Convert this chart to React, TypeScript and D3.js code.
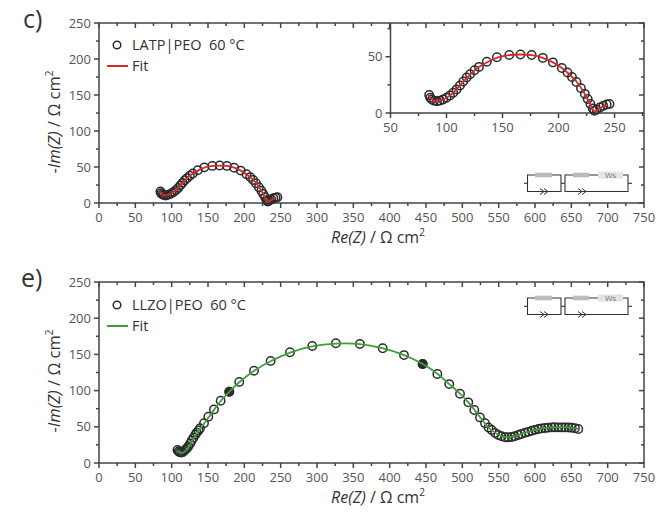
import * as d3 from "d3"

// Nyquist data (Re, -Im) in Ω cm²
const LATP_DATA: [number, number][] = [
  [84.5, 16], [85.5, 13.5], [87, 12], [89, 11], [91.5, 10.5], [94, 11], [97, 12],
  [100, 13.5], [103, 15.5], [106, 18], [109, 21], [112, 24.5], [115, 28], [118, 31.5],
  [121, 34.5], [125, 38], [129, 41], [136, 45.5], [145, 49.5], [156, 51.5], [166, 52],
  [176, 51.5], [186, 49], [195, 45], [203, 40], [208, 36], [212, 32], [216, 27.5],
  [220, 22], [223.5, 17], [226, 12.5], [228.5, 8], [230.5, 4], [232, 2], [234, 3],
  [237, 5], [240, 6.5], [243, 7.5], [245.5, 8],
]
const LATP_FIT: [number, number][] = [
  [84, 16], [86, 13], [89, 11], [92, 10.5], [96, 11.5], [100, 13.5], [106, 18],
  [112, 24.5], [118, 31], [124, 37], [130, 41.5], [138, 46], [146, 49.5], [156, 51.5],
  [166, 52], [176, 51.5], [186, 49], [195, 45], [203, 40], [210, 34], [216, 28],
  [221, 21], [225, 14], [228.5, 7.5], [231, 2.5], [233, 1.5], [236, 3.5], [240, 6],
  [244, 7.5],
]
const LLZO_DATA: [number, number][] = [
  [108, 18], [109.5, 16], [111, 15], [113, 14.5], [115, 15], [117, 16.5], [119, 18.5],
  [121, 20.5], [123, 23], [125.5, 27], [127.6, 31], [130, 35], [132.5, 39], [134.5, 42],
  [137, 45], [139, 48], [144.5, 55], [150.4, 64], [158.2, 74], [167.4, 86], [179.3, 98.5],
  [193, 112], [213.3, 127.5], [236.2, 141], [262.8, 153], [293.5, 161.6], [326, 165.3],
  [359, 164.4], [390.4, 158.4], [419.7, 149], [445.4, 136.7], [465.6, 123], [482, 109],
  [496.8, 95.7], [508.2, 83.8], [516.5, 73.2], [524.3, 63], [531.2, 54.8], [536, 49],
  [540.4, 45.6], [545, 41.5], [549.5, 38.7], [554, 37], [558.7, 35.5], [563, 35.5],
  [567.9, 36], [572, 37], [577, 38.7], [581, 40], [586.2, 41.8], [591, 43], [595.4, 44.6],
  [600, 45.8], [604.6, 46.9], [609, 47.8], [613.8, 48.3], [618, 48.8], [623, 49.2],
  [627, 49.3], [632, 49.2], [637, 49.2], [641.3, 49.2], [646, 49], [650.5, 48.7],
  [655, 48], [659.6, 46.9],
]
// points that show up filled (overlapping duplicates)
const LLZO_FILLED: [number, number][] = [[179.3, 98.5], [445.4, 136.7]]
const LLZO_FIT: [number, number][] = [
  [108, 17], [111, 14.5], [115, 14], [120, 17.5], [125, 25], [130, 33.5], [135, 41.5],
  [140, 48.5], [145, 55], [150, 62], [158, 73], [167, 85], [179, 98], [193, 111.5],
  [213, 127], [236, 140.5], [263, 152.5], [293, 161], [326, 165], [359, 164.3],
  [390, 158.5], [420, 149], [445, 137], [466, 123], [482, 109], [497, 95.5], [508, 84],
  [517, 73], [525, 62.5], [533, 52.5], [542, 44], [551, 38.5], [560, 36], [570, 36.5],
  [580, 39.5], [595, 44.5], [610, 48], [625, 49.5], [640, 49.5], [652, 48.5], [660, 47],
]

const X_TICKS = [0, 50, 100, 150, 200, 250, 300, 350, 400, 450, 500, 550, 600, 650, 700, 750]
const Y_TICKS = [0, 50, 100, 150, 200, 250]
const INSET_X_TICKS = [50, 100, 150, 200, 250]
const INSET_Y_TICKS = [0, 50]

const FONT = "'Open Sans', 'Noto Sans', sans-serif"
const AXIS = "#444"
const LABEL = "#555"
const MARK = "#2b2b2b"
const RED = "#d42a2a"
const GREEN = "#3f9e3a"

type Scale = d3.ScaleLinear<number, number>

function Frame({ x, y, majorX, majorY }: { x: Scale; y: Scale; majorX: number[]; majorY: number[] }) {
  const [x0, x1] = x.range()
  const [y0, y1] = y.range()
  const minorX = majorX.slice(0, -1).map((v, i) => (v + majorX[i + 1]) / 2)
  const minorY = majorY.slice(0, -1).map((v, i) => (v + majorY[i + 1]) / 2)
  return (
    <g stroke={AXIS} strokeWidth={1.5}>
      <rect x={x0} y={y1} width={x1 - x0} height={y0 - y1} fill="none" />
      {majorX.map((v) => (
        <g key={"mx" + v}>
          <line x1={x(v)} x2={x(v)} y1={y0} y2={y0 + 5} />
          <line x1={x(v)} x2={x(v)} y1={y1} y2={y1 + 5} />
        </g>
      ))}
      {minorX.map((v) => (
        <g key={"nx" + v}>
          <line x1={x(v)} x2={x(v)} y1={y0} y2={y0 + 3} />
          <line x1={x(v)} x2={x(v)} y1={y1} y2={y1 + 3} />
        </g>
      ))}
      {majorY.map((v) => (
        <g key={"my" + v}>
          <line x1={x0 - 5} x2={x0} y1={y(v)} y2={y(v)} />
          <line x1={x1 - 5} x2={x1} y1={y(v)} y2={y(v)} />
        </g>
      ))}
      {minorY.map((v) => (
        <g key={"ny" + v}>
          <line x1={x0 - 3} x2={x0} y1={y(v)} y2={y(v)} />
          <line x1={x1 - 3} x2={x1} y1={y(v)} y2={y(v)} />
        </g>
      ))}
    </g>
  )
}

function TickLabels({ x, y, xs, ys, size = 13 }: { x: Scale; y: Scale; xs: number[]; ys: number[]; size?: number }) {
  const [x0] = x.range()
  const [y0] = y.range()
  return (
    <g fontFamily={FONT} fontSize={size} fill={LABEL}>
      {xs.map((v) => (
        <text key={"x" + v} x={x(v)} y={y0 + 19} textAnchor="middle">{v}</text>
      ))}
      {ys.map((v) => (
        <text key={"y" + v} x={x0 - 8} y={y(v) + 4.5} textAnchor="end">{v}</text>
      ))}
    </g>
  )
}

function Series({ x, y, data, fit, color, filled = [] }: {
  x: Scale; y: Scale; data: [number, number][]; fit: [number, number][]; color: string; filled?: [number, number][]
}) {
  const line = d3.line<[number, number]>().x((d) => x(d[0])).y((d) => y(d[1])).curve(d3.curveCatmullRom)
  return (
    <g>
      {data.map((d, i) => (
        <circle key={i} cx={x(d[0])} cy={y(d[1])} r={4.2} fill="none" stroke={MARK} strokeWidth={1.5} />
      ))}
      {filled.map((d, i) => (
        <circle key={"f" + i} cx={x(d[0])} cy={y(d[1])} r={4.2} fill={MARK} stroke={MARK} strokeWidth={1.5} />
      ))}
      <path d={line(fit) ?? ""} fill="none" stroke={color} strokeWidth={1.8} />
    </g>
  )
}

function Legend({ x, y, label, color }: { x: number; y: number; label: string; color: string }) {
  return (
    <g fontFamily={FONT} fontSize={14.5} fill="#333">
      <circle cx={x + 10} cy={y} r={3.8} fill="none" stroke={MARK} strokeWidth={1.5} />
      <text x={x + 25} y={y + 5} style={{ whiteSpace: "pre" }}>{label}</text>
      <line x1={x} x2={x + 21} y1={y + 21} y2={y + 21} stroke={color} strokeWidth={2} />
      <text x={x + 25} y={y + 26}>Fit</text>
    </g>
  )
}

function Cpe({ cx, cy }: { cx: number; cy: number }) {
  return (
    <g stroke="#333" strokeWidth={1} fill="none">
      <path d={`M${cx - 4},${cy - 3} L${cx},${cy} L${cx - 4},${cy + 3}`} />
      <path d={`M${cx},${cy - 3} L${cx + 4},${cy} L${cx},${cy + 3}`} />
    </g>
  )
}

// equivalent circuit: (R||CPE)(R-Ws||CPE)
function Circuit({ x, y }: { x: number; y: number }) {
  const top = y
  const bot = y + 16.5
  const mid = y + 8.3
  return (
    <g>
      <g stroke="#333" strokeWidth={1.1} fill="none">
        <line x1={x} x2={x + 3.5} y1={mid} y2={mid} />
        <path d={`M${x + 3.5},${top} V${bot} H${x + 37} V${top} Z`} />
        <line x1={x + 37} x2={x + 41} y1={mid} y2={mid} />
        <path d={`M${x + 41},${top} V${bot} H${x + 104} V${top} Z`} />
        <line x1={x + 104} x2={x + 108} y1={mid} y2={mid} />
      </g>
      <rect x={x + 11} y={top - 2.3} width={17} height={4.6} fill="#bbb" />
      <rect x={x + 49} y={top - 2.3} width={16} height={4.6} fill="#bbb" />
      <rect x={x + 74} y={top - 3.5} width={25} height={7} fill="#e4e4e4" />
      <text x={x + 86.5} y={top + 2.8} textAnchor="middle" fontFamily={FONT} fontSize={8} fill="#777">Ws</text>
      <Cpe cx={x + 20} cy={bot} />
      <Cpe cx={x + 58} cy={bot} />
    </g>
  )
}

function YTitle({ cx, cy }: { cx: number; cy: number }) {
  return (
    <text transform={`translate(${cx},${cy}) rotate(-90)`} textAnchor="middle" fontFamily={FONT} fontSize={16.5} fill="#333">
      <tspan>-</tspan><tspan fontStyle="italic">Im(Z)</tspan><tspan> / Ω cm</tspan>
      <tspan fontSize={10} dy={-7}>2</tspan>
    </text>
  )
}

function XTitle({ cx, y }: { cx: number; y: number }) {
  return (
    <text x={cx} y={y} textAnchor="middle" fontFamily={FONT} fontSize={16} fill="#333">
      <tspan fontStyle="italic">Re(Z)</tspan><tspan> / Ω cm</tspan>
      <tspan fontSize={10} dy={-7}>2</tspan>
    </text>
  )
}

export default function App() {
  const x = d3.scaleLinear().domain([0, 750]).range([99, 644])
  const yTop = d3.scaleLinear().domain([0, 250]).range([203, 23])
  const yBot = d3.scaleLinear().domain([0, 250]).range([463, 282])
  const xIn = d3.scaleLinear().domain([50, 276.3]).range([390.5, 644])
  const yIn = d3.scaleLinear().domain([0, 80]).range([113, 23])

  return (
    <div style={{ position: "fixed", left: 0, top: 0 }}>
      <svg width={672} height={521} style={{ display: "block", background: "#fff" }}>
        {/* panel c */}
        <text x={23} y={28} fontFamily={FONT} fontSize={25} fill="#333">c)</text>
        <Frame x={x} y={yTop} majorX={X_TICKS} majorY={Y_TICKS} />
        <TickLabels x={x} y={yTop} xs={X_TICKS} ys={Y_TICKS} />
        <Series x={x} y={yTop} data={LATP_DATA} fit={LATP_FIT} color={RED} />
        <Legend x={107} y={45} label="LATP|PEO  60 °C" color={RED} />
        <YTitle cx={60} cy={122} />
        <XTitle cx={378} y={243} />
        <Circuit x={524} y={175} />

        {/* inset */}
        <g stroke={AXIS} strokeWidth={1.5}>
          <line x1={xIn(50)} x2={xIn(50)} y1={yIn(80)} y2={yIn(0)} />
          <line x1={xIn(50)} x2={644} y1={yIn(0)} y2={yIn(0)} />
          {INSET_X_TICKS.map((v) => (
            <line key={v} x1={xIn(v)} x2={xIn(v)} y1={yIn(0)} y2={yIn(0) + 5} />
          ))}
          {[75, 125, 175, 225, 275].map((v) => (
            <line key={v} x1={xIn(v)} x2={xIn(v)} y1={yIn(0)} y2={yIn(0) + 3} />
          ))}
          {INSET_Y_TICKS.map((v) => (
            <line key={v} x1={xIn(50) - 5} x2={xIn(50)} y1={yIn(v)} y2={yIn(v)} />
          ))}
          {[25, 75].map((v) => (
            <line key={v} x1={xIn(50) - 3} x2={xIn(50)} y1={yIn(v)} y2={yIn(v)} />
          ))}
        </g>
        <TickLabels x={xIn} y={yIn} xs={INSET_X_TICKS} ys={INSET_Y_TICKS} />
        <Series x={xIn} y={yIn} data={LATP_DATA} fit={LATP_FIT} color={RED} />

        {/* panel e */}
        <text x={21} y={287} fontFamily={FONT} fontSize={25} fill="#333">e)</text>
        <Frame x={x} y={yBot} majorX={X_TICKS} majorY={Y_TICKS} />
        <TickLabels x={x} y={yBot} xs={X_TICKS} ys={Y_TICKS} />
        <Series x={x} y={yBot} data={LLZO_DATA} fit={LLZO_FIT} color={GREEN} filled={LLZO_FILLED} />
        <Legend x={107} y={305} label="LLZO|PEO  60 °C" color={GREEN} />
        <YTitle cx={60} cy={381} />
        <XTitle cx={378} y={503} />
        <Circuit x={524} y={298} />
      </svg>
    </div>
  )
}
